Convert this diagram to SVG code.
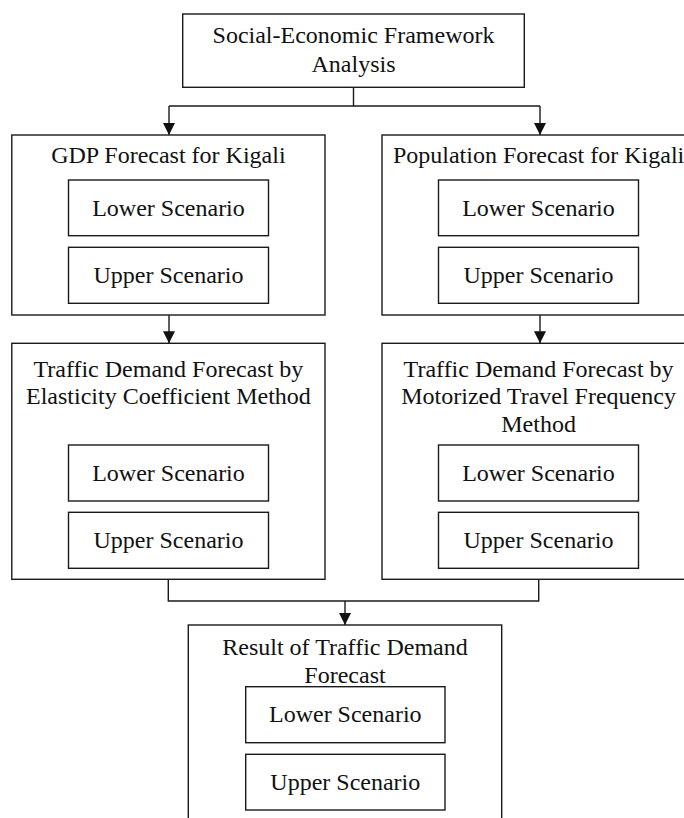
<svg xmlns="http://www.w3.org/2000/svg" width="684" height="818" viewBox="0 0 684 818">
<defs>
<style>
rect{fill:#fff;stroke:#1a1a1a;stroke-width:1.4}
text{font-family:"Liberation Serif","Times New Roman",serif;font-size:24px;fill:#111;text-anchor:middle}
.c{fill:none;stroke:#1a1a1a;stroke-width:1.4}
</style>
<marker id="ah" viewBox="0 0 12 12" refX="12" refY="6" markerWidth="12" markerHeight="12" markerUnits="userSpaceOnUse" orient="auto">
<path d="M0,0 L12,6 L0,12 Z" fill="#111"/>
</marker>
</defs>
<rect x="0" y="0" width="684" height="818" style="fill:#fff;stroke:none"/>
<g id="connectors">
<path class="c" d="M353.5,87.3 V106 M169,106 H540"/>
<path class="c" d="M169,106 V135" marker-end="url(#ah)"/>
<path class="c" d="M540,106 V135" marker-end="url(#ah)"/>
<path class="c" d="M169,315 V343.3" marker-end="url(#ah)"/>
<path class="c" d="M540,315 V343.3" marker-end="url(#ah)"/>
<path class="c" d="M168.3,579.3 V601 H538.7 V579.3"/>
<path class="c" d="M345,601 V625" marker-end="url(#ah)"/>
</g>
<g id="socio">
<rect x="182.7" y="14" width="341.6" height="73.3"/>
<text x="353.5" y="43.3">Social-Economic Framework</text>
<text x="353.5" y="71.7">Analysis</text>
</g>
<g id="gdp">
<rect x="11.8" y="135" width="313.2" height="180"/>
<text x="168.4" y="163.3">GDP Forecast for Kigali</text>
<g id="gdp-lower"><rect x="68.5" y="180" width="200" height="55.7"/><text x="168.5" y="215.7">Lower Scenario</text></g>
<g id="gdp-upper"><rect x="68.5" y="247.3" width="200" height="56"/><text x="168.5" y="282.7">Upper Scenario</text></g>
</g>
<g id="pop">
<rect x="382" y="135" width="313.2" height="180"/>
<text x="538.6" y="163.3">Population Forecast for Kigali</text>
<g id="pop-lower"><rect x="438.5" y="180" width="200" height="55.7"/><text x="538.5" y="215.7">Lower Scenario</text></g>
<g id="pop-upper"><rect x="438.5" y="247.3" width="200" height="56"/><text x="538.5" y="282.7">Upper Scenario</text></g>
</g>
<g id="elastic">
<rect x="11.8" y="343.3" width="313.2" height="236"/>
<text x="168.4" y="376.7">Traffic Demand Forecast by</text>
<text x="168.4" y="404">Elasticity Coefficient Method</text>
<g id="el-lower"><rect x="68.5" y="445" width="200" height="56"/><text x="168.5" y="480.7">Lower Scenario</text></g>
<g id="el-upper"><rect x="68.5" y="512.3" width="200" height="56"/><text x="168.5" y="547.7">Upper Scenario</text></g>
</g>
<g id="motor">
<rect x="382" y="343.3" width="313.2" height="236"/>
<text x="538.6" y="376.7">Traffic Demand Forecast by</text>
<text x="538.6" y="404">Motorized Travel Frequency</text>
<text x="538.6" y="431.7">Method</text>
<g id="mo-lower"><rect x="438.5" y="445" width="200" height="56"/><text x="538.5" y="480.7">Lower Scenario</text></g>
<g id="mo-upper"><rect x="438.5" y="512.3" width="200" height="56"/><text x="538.5" y="547.7">Upper Scenario</text></g>
</g>
<g id="result">
<rect x="188.3" y="625" width="313.4" height="210"/>
<text x="345" y="654.5">Result of Traffic Demand</text>
<text x="345" y="682.5">Forecast</text>
<g id="re-lower"><rect x="245.7" y="686.7" width="199.3" height="56"/><text x="345.3" y="722.3">Lower Scenario</text></g>
<g id="re-upper"><rect x="245.7" y="754.3" width="199.3" height="55.7"/><text x="345.3" y="789.7">Upper Scenario</text></g>
</g>
</svg>
